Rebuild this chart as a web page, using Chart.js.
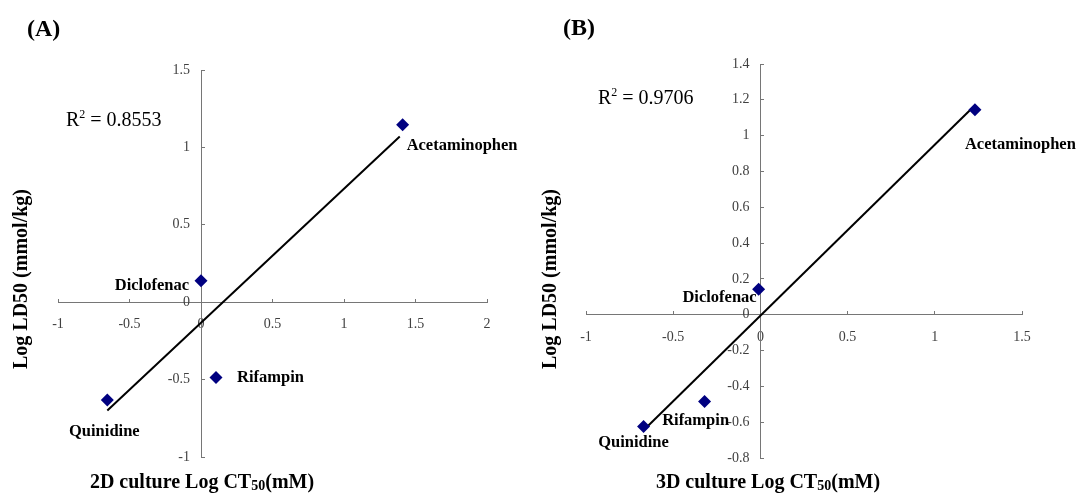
<!DOCTYPE html>
<html>
<head>
<meta charset="utf-8">
<script src="https://cdn.jsdelivr.net/npm/chart.js@4.4.1/dist/chart.umd.min.js"></script>
<style>
html,body{margin:0;padding:0;background:#fff;}
#wrap{position:relative;width:1080px;height:493px;overflow:hidden;font-family:'Liberation Serif','Times New Roman',serif;}
canvas{position:absolute;top:0;}
.t{position:absolute;white-space:nowrap;color:#000;line-height:1;}
.b{font-weight:bold;}
.rot{transform:translate(-50%,-50%) rotate(-90deg);}
.ctr{transform:translate(-50%,-50%);}
sup{font-size:0.6em;vertical-align:0.65em;line-height:0;}
sub{font-size:0.7em;vertical-align:-0.15em;line-height:0;}
</style>
</head>
<body>
<div id="wrap">
  <canvas id="cA" width="540" height="493" style="left:0px;width:540px;height:493px;"></canvas>
  <canvas id="cB" width="540" height="493" style="left:540px;width:540px;height:493px;"></canvas>
  <div class="t b" style="left:27px;top:16px;font-size:24px;">(A)</div>
  <div class="t" style="left:66px;top:109px;font-size:20px;">R<sup>2</sup> = 0.8553</div>
  <div class="t b rot" style="left:20px;top:279px;font-size:20px;">Log LD50 (mmol/kg)</div>
  <div class="t b ctr" style="left:202px;top:481px;font-size:20px;">2D culture Log CT<sub>50</sub>(mM)</div>
  <div class="t b" style="left:563px;top:15px;font-size:24px;">(B)</div>
  <div class="t" style="left:598px;top:87px;font-size:20px;">R<sup>2</sup> = 0.9706</div>
  <div class="t b rot" style="left:549px;top:279px;font-size:20px;">Log LD50 (mmol/kg)</div>
  <div class="t b ctr" style="left:768px;top:481px;font-size:20px;">3D culture Log CT<sub>50</sub>(mM)</div>
</div>
<script>
// ---- data ----
const drugs = ['Acetaminophen', 'Diclofenac', 'Rifampin', 'Quinidine'];
// Panel A: 2D culture
const xA = [1.41, 0.0, 0.105, -0.655];
const yA = [1.146, 0.138, -0.487, -0.631];
const trendAX = [-0.655, 1.39];
const trendAY = [-0.70, 1.07];
const xTicksA = [-1, -0.5, 0, 0.5, 1, 1.5, 2];
const xLabelsA = ['-1', '-0.5', '0', '0.5', '1', '1.5', '2'];
const yTicksA = [-1, -0.5, 0, 0.5, 1, 1.5];
const yLabelsA = ['-1', '-0.5', '0', '0.5', '1', '1.5'];
// Panel B: 3D culture
const xB = [1.23, -0.01, -0.32, -0.67];
const yB = [1.144, 0.142, -0.485, -0.624];
const trendBX = [-0.67, 1.21];
const trendBY = [-0.645, 1.15];
const xTicksB = [-1, -0.5, 0, 0.5, 1, 1.5];
const xLabelsB = ['-1', '-0.5', '0', '0.5', '1', '1.5'];
const yTicksB = [-0.8, -0.6, -0.4, -0.2, 0, 0.2, 0.4, 0.6, 0.8, 1, 1.2, 1.4];
const yLabelsB = ['-0.8', '-0.6', '-0.4', '-0.2', '0', '0.2', '0.4', '0.6', '0.8', '1', '1.2', '1.4'];

// ---- label placement (style, not data) ----
const offA = [[4, 21, 'left'], [-12, 5, 'right'], [21, 0, 'left'], [-3, 32, 'center']];
const offB = [[-10, 35, 'left'], [-2, 8, 'right'], [-9, 19, 'center'], [-10, 16, 'center']];

const AXIS = '#767676';
const TICKFONT = {family: 'Liberation Serif', size: 14};

function labelPlugin(xs, ys, yTicks, yLabels, offs) {
  return {
    id: 'labs',
    afterDatasetsDraw(chart) {
      const ctx = chart.ctx, sx = chart.scales.x, sy = chart.scales.y;
      ctx.save();
      ctx.font = '14px "Liberation Serif"';
      ctx.fillStyle = '#404040';
      ctx.textAlign = 'right';
      ctx.textBaseline = 'middle';
      const ax = sx.getPixelForValue(0);
      yTicks.forEach((v, i) => ctx.fillText(yLabels[i], ax - 11, sy.getPixelForValue(v)));
      ctx.font = 'bold 16.5px "Liberation Serif"';
      ctx.fillStyle = '#000';
      drugs.forEach((n, i) => {
        const o = offs[i];
        ctx.textAlign = o[2];
        ctx.fillText(n, sx.getPixelForValue(xs[i]) + o[0], sy.getPixelForValue(ys[i]) + o[1]);
      });
      ctx.restore();
    }
  };
}

function makeChart(id, xs, ys, tx, ty, xTicks, xLabels, yTicks, yLabels, xmin, xmax, ymin, ymax, pad, offs) {
  const pts = xs.map((x, i) => ({x: x, y: ys[i]}));
  const line = tx.map((x, i) => ({x: x, y: ty[i]}));
  return new Chart(document.getElementById(id), {
    type: 'scatter',
    data: {
      datasets: [
        {data: pts, pointStyle: 'rectRot', pointRadius: 6.5, backgroundColor: '#000080', borderColor: '#000080', borderWidth: 0, showLine: false, order: 0},
        {data: line, showLine: true, borderColor: '#000', borderWidth: 2, pointRadius: 0, order: 1}
      ]
    },
    options: {
      responsive: false,
      animation: false,
      events: [],
      layout: {padding: pad},
      plugins: {legend: {display: false}, tooltip: {enabled: false}},
      scales: {
        x: {
          type: 'linear', min: xmin, max: xmax, position: {y: 0},
          afterBuildTicks: s => { s.ticks = xTicks.map(v => ({value: v})); },
          ticks: {callback: (v, i) => xLabels[i], font: TICKFONT, color: '#404040', padding: 18, maxRotation: 0, autoSkip: false},
          grid: {drawOnChartArea: false, drawTicks: true, tickLength: -4, color: AXIS, lineWidth: 1},
          border: {display: true, color: AXIS, width: 1}
        },
        y: {
          type: 'linear', min: ymin, max: ymax, position: {x: 0},
          afterBuildTicks: s => { s.ticks = yTicks.map(v => ({value: v})); },
          ticks: {display: false},
          grid: {drawOnChartArea: false, drawTicks: true, tickLength: -4, color: AXIS, lineWidth: 1},
          border: {display: true, color: AXIS, width: 1}
        }
      }
    },
    plugins: [labelPlugin(xs, ys, yTicks, yLabels, offs)]
  });
}

makeChart('cA', xA, yA, trendAX, trendAY, xTicksA, xLabelsA, yTicksA, yLabelsA, -1, 2, -1, 1.5,
  {left: 58, right: 53, top: 70, bottom: 36}, offA);
makeChart('cB', xB, yB, trendBX, trendBY, xTicksB, xLabelsB, yTicksB, yLabelsB, -1, 1.5, -0.8, 1.4,
  {left: 46, right: 58, top: 64, bottom: 35}, offB);
</script>
</body>
</html>
